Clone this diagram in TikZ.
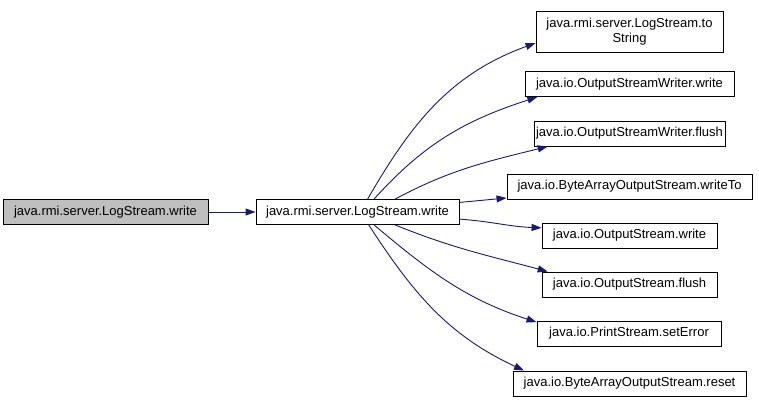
\documentclass[tikz,border=0pt]{standalone}
\usepackage{fontspec}
\setmainfont{Liberation Sans}
\usepackage{xcolor}
\usetikzlibrary{positioning,arrows.meta}
\definecolor{cEdge}{HTML}{191970}
\definecolor{cRoot}{HTML}{BFBFBF}

\begin{document}
\begin{tikzpicture}[x=1pt,y=-1pt,
  font=\fontsize{13}{15.5}\selectfont,
  fn/.style={draw=black,line width=0.9pt,fill=white,inner sep=0pt,
             minimum height=25pt,align=center},
  ar/.style={line width=0.9pt,cEdge,-{Triangle[length=10pt,width=7pt]}}]
\useasboundingbox (0,0) rectangle (759,407);
% caller and callee under inspection
\node[fn,fill=cRoot,minimum width=205pt] (c0) at (105.5,212) {java.rmi.server.LogStream.write};
\node[fn,minimum width=203pt] (c1) at (357.5,212) {java.rmi.server.LogStream.write};
% called functions
\node[fn,minimum width=187pt,minimum height=41pt] (f1) at (629.5,31.5) {java.rmi.server.LogStream.to\\String};
\node[fn,minimum width=209pt] (f2) at (629.5,84) {java.io.OutputStreamWriter.write};
\node[fn,minimum width=191pt] (f3) at (629.5,133.5) {java.io.OutputStreamWriter.flush};
\node[fn,minimum width=245pt] (f4) at (629.5,186.5) {java.io.ByteArrayOutputStream.writeTo};
\node[fn,minimum width=175pt] (f5) at (629.5,235.5) {java.io.OutputStream.write};
\node[fn,minimum width=175pt] (f6) at (629.5,284.5) {java.io.OutputStream.flush};
\node[fn,minimum width=184pt] (f7) at (629,333.5) {java.io.PrintStream.setError};
\node[fn,minimum width=233pt] (f8) at (629.5,383.5) {java.io.ByteArrayOutputStream.reset};
\draw[ar] (c0) -- (c1);
\draw[ar] (c1.52) to[out=60,in=200] (f1.187);
\draw[ar] (c1.38) to[out=48,in=198] (f2.188);
\draw[ar] (c1.19) to[out=28,in=194] (f3.189);
\draw[ar] (c1) -- (f4);
\draw[ar] (c1.-4) to[out=-4,in=178] (f5.175);
\draw[ar] (c1.-19) to[out=-22,in=165] (f6.171);
\draw[ar] (c1.-38) to[out=-40,in=162] (f7.173);
\draw[ar] (c1.-49) to[out=-57,in=155] (f8.173);
\end{tikzpicture}
\end{document}
